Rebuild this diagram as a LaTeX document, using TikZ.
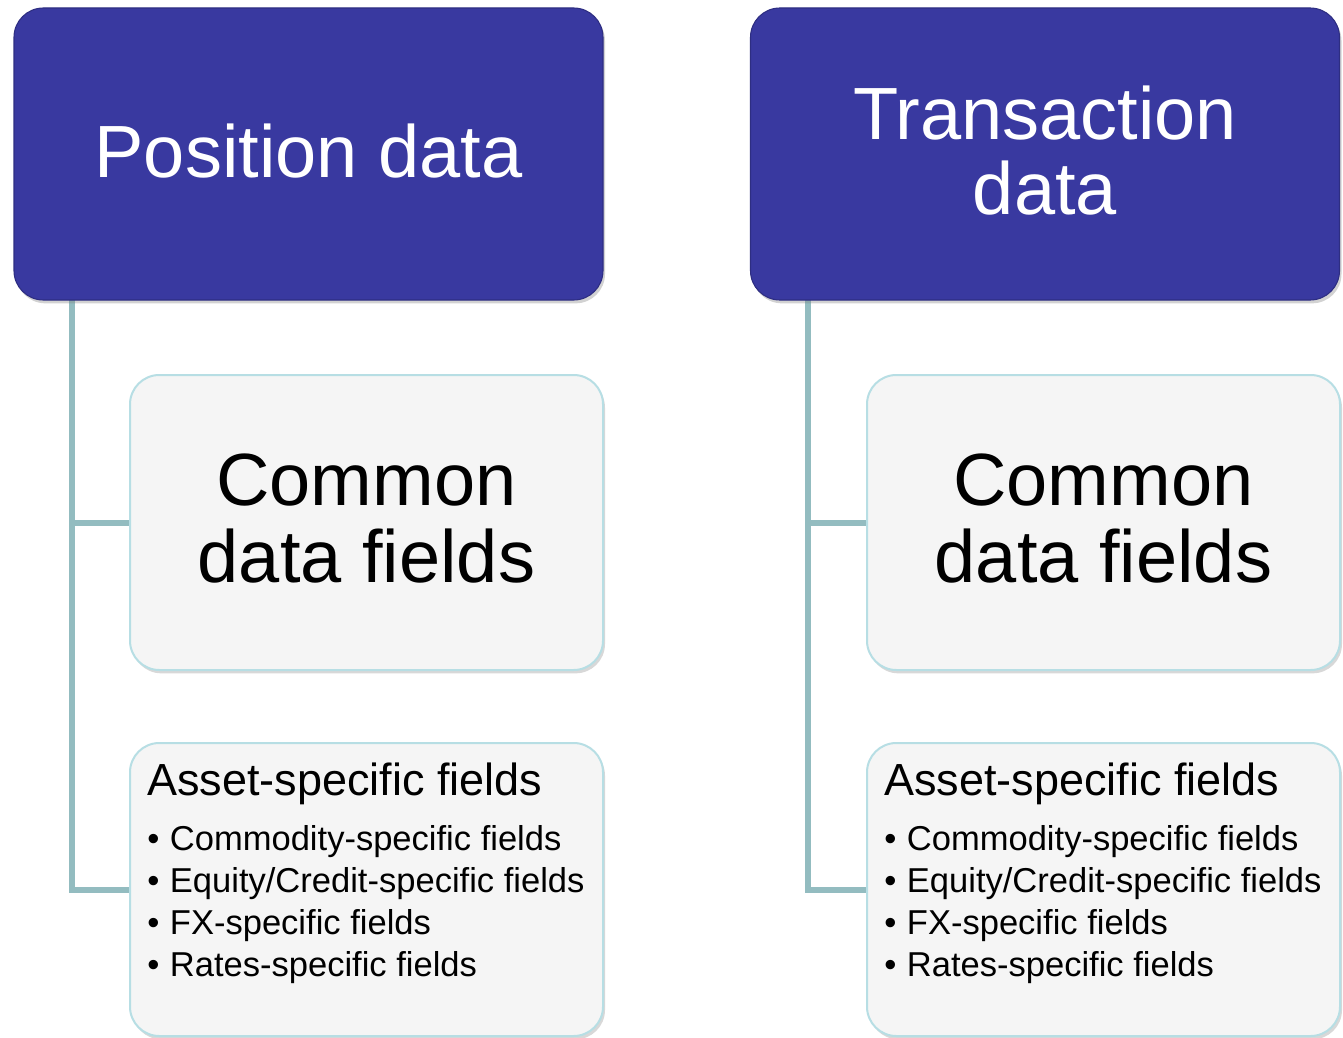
\documentclass[tikz,border=0pt]{standalone}
\usepackage{fontspec}
\setmainfont{Liberation Sans}
\usetikzlibrary{shadows}
\definecolor{headblue}{RGB}{57,57,160}
\definecolor{headedge}{RGB}{46,46,130}
\definecolor{boxfill}{RGB}{245,245,245}
\definecolor{boxedge}{RGB}{183,222,228}
\definecolor{connc}{RGB}{147,188,192}
\tikzset{
  head/.style={rounded corners=22pt, fill=headblue, draw=headedge, line width=0.8pt,
    text=white, align=center, font=\fontsize{55.5pt}{56.25pt}\selectfont,
    minimum width={589*0.75pt}, minimum height={292*0.75pt}, inner sep=0pt,
    drop shadow={shadow xshift=1.5pt, shadow yshift=-2.5pt, opacity=0.35}},
  sub/.style={rounded corners=22pt, fill=boxfill, draw=boxedge, line width=1.5pt,
    text=black, align=center, font=\fontsize{55.5pt}{57.75pt}\selectfont,
    minimum width={473*0.75pt}, inner sep=0pt,
    drop shadow={shadow xshift=1.5pt, shadow yshift=-2.5pt, opacity=0.3}},
  conn/.style={draw=connc, line width=4.5pt},
  ttl/.style={anchor=base west, inner sep=0pt, font=\fontsize{33.75pt}{40pt}\selectfont},
  bul/.style={anchor=base west, inner sep=0pt, font=\fontsize{25.9pt}{31.5pt}\selectfont},
  lbl/.style={inner sep=0pt, text=black, align=center, font=\fontsize{55.5pt}{57.75pt}\selectfont},
  hlbl/.style={inner sep=0pt, text=white, align=center, font=\fontsize{55.5pt}{56.25pt}\selectfont},
}
\newcommand{\bl}{\makebox[17pt][l]{•}}
\begin{document}
\begin{tikzpicture}[x=0.75pt,y=-0.75pt]
\useasboundingbox[fill=white] (0,0) rectangle (1343,1038);
\coordinate (lx) at (72,300);
\coordinate (rx) at (808,300);
\node[sub, minimum height={295*0.75pt}] (pcommon) at (366.5,522.5) {};
\node[sub, minimum height={293*0.75pt}] (passet) at (366.5,889.5) {};
\node[sub, minimum height={295*0.75pt}] (tcommon) at (1103.5,522.5) {};
\node[sub, minimum height={293*0.75pt}] (tasset) at (1103.5,889.5) {};
\node[lbl] (pcl) at (366.5,519) {Common\\data fields};
\node[lbl] (tcl) at (1103.5,519) {Common\\data fields};
\draw[conn] (lx) |- (passet.west);
\draw[conn] (lx) |- (pcommon.west);
\draw[conn] (rx) |- (tasset.west);
\draw[conn] (rx) |- (tcommon.west);
\node[head] (ptop) at (308.5,154) {};
\node[head] (ttop) at (1045,154) {};
\node[hlbl] (ptl) at (308.5,151) {Position data};
\node[hlbl] (ttl) at (1045,151) {Transaction\\data};
% left asset text
\node[ttl] (pt0) at (147,795) {Asset-specific fields};
\node[bul] (pb1) at (147,850) {\bl Commodity-specific fields};
\node[bul] (pb2) at (147,892) {\bl Equity/Credit-specific fields};
\node[bul] (pb3) at (147,934) {\bl FX-specific fields};
\node[bul] (pb4) at (147,976) {\bl Rates-specific fields};
% right asset text
\node[ttl] (tt0) at (884,795) {Asset-specific fields};
\node[bul] (tb1) at (884,850) {\bl Commodity-specific fields};
\node[bul] (tb2) at (884,892) {\bl Equity/Credit-specific fields};
\node[bul] (tb3) at (884,934) {\bl FX-specific fields};
\node[bul] (tb4) at (884,976) {\bl Rates-specific fields};
\end{tikzpicture}
\end{document}
